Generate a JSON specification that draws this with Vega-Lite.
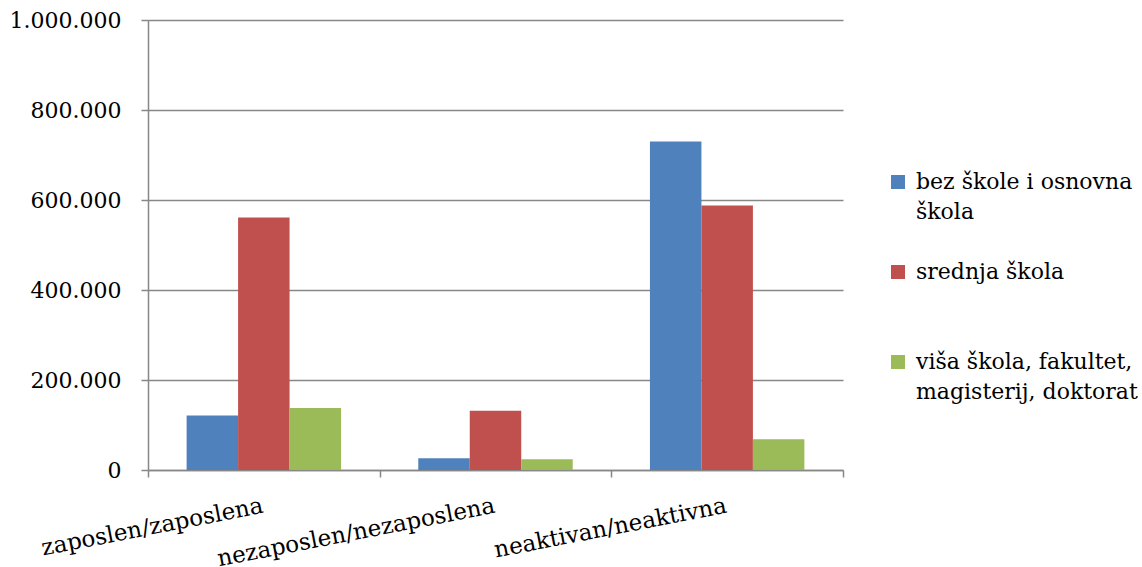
{
  "$schema": "https://vega.github.io/schema/vega-lite/v6.json",
  "width": 695,
  "height": 450,
  "autosize": {"type": "none"},
  "padding": {"left": 148, "top": 20, "right": 299, "bottom": 97},
  "background": "white",
  "config": {
    "locale": {"number": {"decimal": ",", "thousands": ".", "grouping": [3], "currency": ["", ""]}},
    "view": {"stroke": null},
    "font": "DejaVu Serif",
    "style": {"guide-label": {"lineHeight": 30}}
  },
  "data": {
    "values": [
      {"status": "zaposlen/zaposlena", "edu": "bez škole i osnovna škola", "value": 121000},
      {"status": "zaposlen/zaposlena", "edu": "srednja škola", "value": 561000},
      {"status": "zaposlen/zaposlena", "edu": "viša škola, fakultet, magisterij, doktorat", "value": 138000},
      {"status": "nezaposlen/nezaposlena", "edu": "bez škole i osnovna škola", "value": 26000},
      {"status": "nezaposlen/nezaposlena", "edu": "srednja škola", "value": 131500},
      {"status": "nezaposlen/nezaposlena", "edu": "viša škola, fakultet, magisterij, doktorat", "value": 24000},
      {"status": "neaktivan/neaktivna", "edu": "bez škole i osnovna škola", "value": 730000},
      {"status": "neaktivan/neaktivna", "edu": "srednja škola", "value": 588000},
      {"status": "neaktivan/neaktivna", "edu": "viša škola, fakultet, magisterij, doktorat", "value": 68500}
    ]
  },
  "mark": {"type": "bar"},
  "encoding": {
    "x": {
      "field": "status",
      "type": "nominal",
      "sort": ["zaposlen/zaposlena", "nezaposlen/nezaposlena", "neaktivan/neaktivna"],
      "scale": {"paddingInner": 0, "paddingOuter": 0},
      "axis": {
        "title": null,
        "domainColor": "#878787",
        "domainWidth": 1.5,
        "tickColor": "#878787",
        "tickWidth": 1.5,
        "tickSize": 7,
        "tickBand": "extent",
        "labelAngle": -11,
        "labelAlign": "right",
        "labelBaseline": "alphabetic",
        "labelPadding": 35,
        "labelFontSize": 23,
        "labelFont": "DejaVu Serif",
        "labelColor": "#000000",
        "labelLimit": 400
      }
    },
    "xOffset": {
      "field": "edu",
      "type": "nominal",
      "scale": {"paddingInner": 0, "paddingOuter": 0.75}
    },
    "y": {
      "field": "value",
      "type": "quantitative",
      "scale": {"domain": [0, 1000000], "nice": false},
      "axis": {
        "title": null,
        "values": [0, 200000, 400000, 600000, 800000, 1000000],
        "format": ",d",
        "grid": true,
        "gridColor": "#878787",
        "gridWidth": 1.5,
        "domainColor": "#878787",
        "domainWidth": 1.5,
        "tickColor": "#878787",
        "tickWidth": 1.5,
        "tickSize": 7,
        "labelPadding": 20,
        "labelFontSize": 22,
        "labelFont": "DejaVu Serif",
        "labelColor": "#000000"
      }
    },
    "color": {
      "field": "edu",
      "type": "nominal",
      "scale": {
        "domain": ["bez škole i osnovna škola", "srednja škola", "viša škola, fakultet, magisterij, doktorat"],
        "range": ["#4F81BD", "#C0504D", "#9BBB59"]
      },
      "legend": {
        "title": null,
        "orient": "none",
        "legendX": 739,
        "legendY": 151,
        "symbolType": "square",
        "symbolSize": 196,
        "symbolStrokeWidth": 0,
        "labelFontSize": 22,
        "labelFont": "DejaVu Serif",
        "labelColor": "#000000",
        "labelLimit": 400,
        "labelOffset": 7,
        "rowPadding": 38,
        "labelExpr": "datum.label == 'bez škole i osnovna škola' ? ['bez škole i osnovna', 'škola'] : datum.label == 'srednja škola' ? ['srednja škola', ''] : ['viša škola, fakultet,', 'magisterij, doktorat']"
      }
    }
  }
}
